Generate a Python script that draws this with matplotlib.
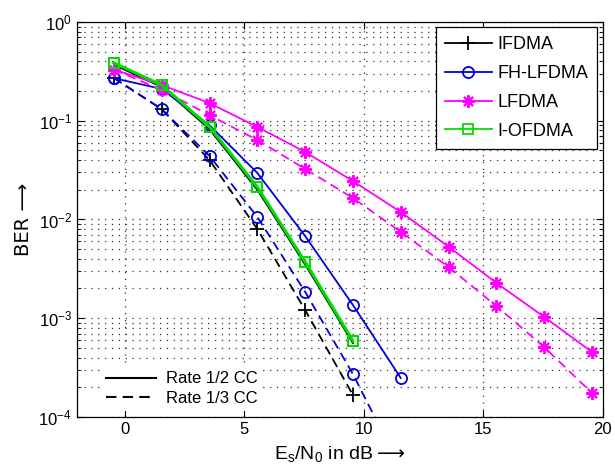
import numpy as np
from matplotlib import pyplot as plt
from matplotlib.lines import Line2D

plt.rcParams['font.family'] = ['Liberation Sans', 'DejaVu Sans']

# Es/N0 points (dB)
snr = [-0.45, 1.55, 3.55, 5.55, 7.55, 9.55, 11.55, 13.55, 15.55, 17.55, 19.55]

# rate 1/2 CC (solid) and rate 1/3 CC (dashed)
ifdma_r12 = [0.37, 0.22, 0.082, 0.020, 0.0035, 5.6e-4]
ifdma_r13 = [0.271, 0.131, 0.040, 0.0080, 0.00121, 1.67e-4]
fh_r12 = [0.27, 0.21, 0.09, 0.0296, 0.0068, 0.00136, 2.48e-4]
fh_r13 = [0.271, 0.131, 0.044, 0.0106, 0.00185, 2.72e-4, 3.0e-5]
lfdma_r12 = [0.33, 0.23, 0.151, 0.0865, 0.0483, 0.0245, 0.0119, 0.0053, 0.00228, 0.00103, 4.55e-4]
lfdma_r13 = [0.33, 0.205, 0.114, 0.0638, 0.0325, 0.0165, 0.0075, 0.0033, 0.00133, 5.1e-4, 1.75e-4]
iofdma_r12 = [0.385, 0.23, 0.0865, 0.0213, 0.00372, 5.9e-4]

dash = (0, (5, 3))
star = (8, 2, 0)  # matlab-like asterisk
dots = (0, (1, 4.5))

fig = plt.figure(figsize=(6.15, 4.69), dpi=100)
ax = fig.add_axes([0.125, 0.111, 0.855, 0.842])

ax.semilogy(snr[:6], ifdma_r12, color='k', lw=1.3)
ax.semilogy(snr[:6], ifdma_r13, color='k', lw=1.3, ls=dash, marker='+', ms=10, mew=1.3)
ax.semilogy(snr[:7], fh_r12, color='#0000dd', lw=1.3, marker='o', ms=8, mfc='none', mew=1.3)
ax.semilogy(snr[:7], fh_r13, color='#0000dd', lw=1.3, ls=dash, marker='o', ms=8,
            mfc='none', mew=1.3)
ax.semilogy(snr, lfdma_r12, color='#ff00ff', lw=1.3, marker=star, ms=9, mew=1.5)
ax.semilogy(snr, lfdma_r13, color='#ff00ff', lw=1.3, ls=dash, marker=star, ms=9, mew=1.5)
ax.semilogy(snr[:6], iofdma_r12, color='#00dd00', lw=2.2, marker='s', ms=7,
            mfc='none', mew=1.5)

ax.set_xlim(-2, 20)
ax.set_ylim(1e-4, 1)
ax.set_xticks([0, 5, 10, 15, 20])
ax.tick_params(which='both', direction='in', top=True, right=True, labelsize=12)
ax.tick_params(which='major', length=5)
ax.tick_params(which='minor', length=3)
ax.grid(True, which='major', ls=dots, color='0.2', lw=0.9)
ax.grid(True, which='minor', axis='y', ls=dots, color='0.2', lw=0.9)
for s in ax.spines.values():
    s.set_linewidth(0.9)

ax.set_xlabel(r'E$_\mathregular{s}$/N$_\mathregular{0}$ in dB$\longrightarrow$', fontsize=14,
              labelpad=6)
ax.set_ylabel('BER ⟶', fontsize=14, family=['DejaVu Sans'])

handles = [
    Line2D([], [], color='k', lw=1.3, marker='+', ms=10, mew=1.3),
    Line2D([], [], color='#0000dd', lw=1.3, marker='o', ms=8, mfc='none', mew=1.3),
    Line2D([], [], color='#ff00ff', lw=1.3, marker=star, ms=9, mew=1.5),
    Line2D([], [], color='#00dd00', lw=1.3, marker='s', ms=7, mfc='none', mew=1.3),
]
leg1 = ax.legend(handles, ['IFDMA', 'FH-LFDMA', 'LFDMA', 'I-OFDMA'], loc='upper right',
                 fontsize=13, fancybox=False, edgecolor='k', framealpha=1,
                 borderaxespad=0.3, handlelength=2.6, labelspacing=0.65, handletextpad=0.3,
                 borderpad=0.5)
leg1.get_frame().set_linewidth(0.9)
ax.add_artist(leg1)

rate_handles = [
    Line2D([], [], color='k', lw=1.5),
    Line2D([], [], color='k', lw=1.5, ls=dash),
]
ax.legend(rate_handles, ['Rate 1/2 CC', 'Rate 1/3 CC'], loc='lower left', fontsize=12,
          frameon=True, edgecolor='none', framealpha=1, bbox_to_anchor=(0.03, -0.005),
          handlelength=3, labelspacing=0.25, handletextpad=0.6, borderpad=0.3)

fig.savefig('out.png', dpi=100)
